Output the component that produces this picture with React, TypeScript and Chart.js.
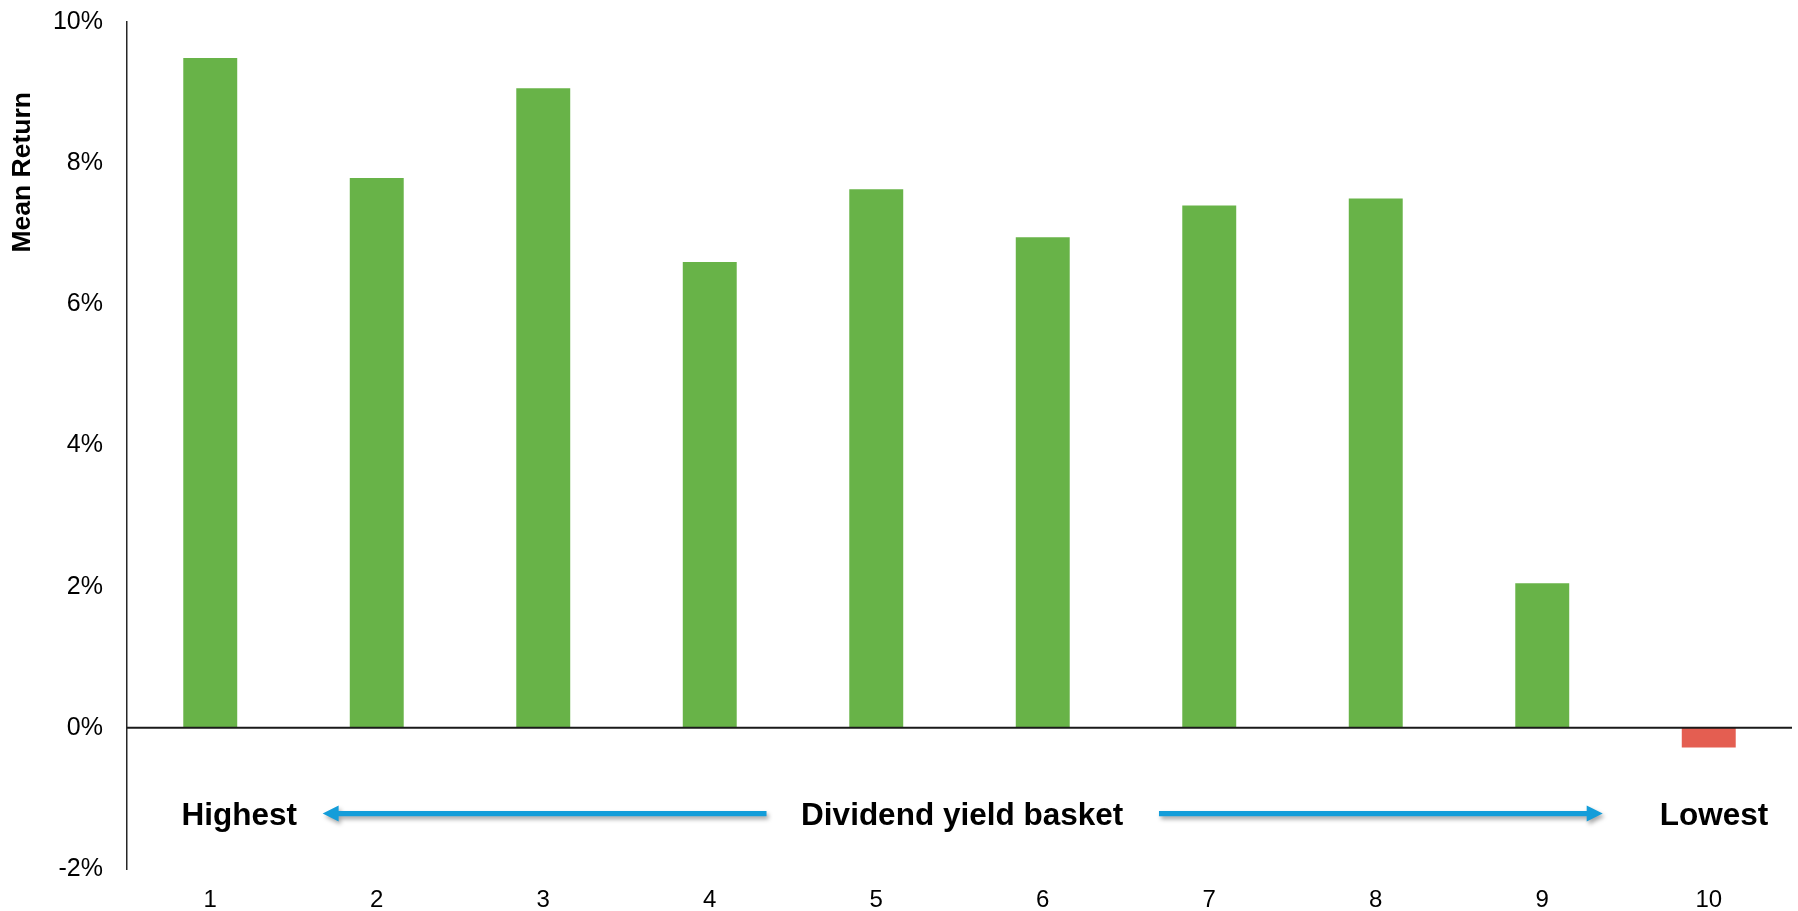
import React, { useEffect, useRef } from "react";
import { Chart, registerables } from "chart.js";

Chart.register(...registerables);

const categories = ["1", "2", "3", "4", "5", "6", "7", "8", "9", "10"];
const meanReturn = [9.49, 7.79, 9.06, 6.6, 7.63, 6.95, 7.4, 7.5, 2.05, -0.28];
const yTicks = [-2, 0, 2, 4, 6, 8, 10];
const yAxisTitle = "Mean Return";
const leftLabel = "Highest";
const centerLabel = "Dividend yield basket";
const rightLabel = "Lowest";

const GREEN = "#68b348";
const RED = "#e45e51";
const BLUE = "#149dd9";
const FONT = "'Liberation Sans', Arial, sans-serif";

const annotationPlugin = {
  id: "annotations",
  afterDatasetsDraw(chart: any) {
    const { ctx, chartArea, scales } = chart;
    const xs = scales.x;
    const ys = scales.y;
    // zero line
    const y0 = ys.getPixelForValue(0);
    ctx.save();
    ctx.strokeStyle = "#1a1a1a";
    ctx.lineWidth = 2;
    ctx.beginPath();
    ctx.moveTo(chartArea.left, y0);
    ctx.lineTo(chartArea.right, y0);
    ctx.stroke();
    ctx.restore();

    // y axis title
    ctx.save();
    ctx.font = `bold 26.5px ${FONT}`;
    ctx.fillStyle = "#000";
    ctx.textAlign = "center";
    ctx.textBaseline = "middle";
    ctx.translate(22.5, ys.getPixelForValue(7.87));
    ctx.rotate(-Math.PI / 2);
    ctx.fillText(yAxisTitle, 0, 0);
    ctx.restore();

    const arrowY = ys.getPixelForValue(-1.215);
    const textY = ys.getPixelForValue(-1.372);

    const drawArrow = (fromIdx: number, toIdx: number) => {
      const x1 = xs.getPixelForValue(fromIdx);
      const x2 = xs.getPixelForValue(toIdx);
      const dir = Math.sign(x2 - x1);
      const head = 16;
      ctx.save();
      ctx.shadowColor = "rgba(0,0,0,0.35)";
      ctx.shadowBlur = 4;
      ctx.shadowOffsetX = 2;
      ctx.shadowOffsetY = 3;
      ctx.fillStyle = BLUE;
      ctx.beginPath();
      ctx.moveTo(x1, arrowY - 2.6);
      ctx.lineTo(x2 - dir * head, arrowY - 2.6);
      ctx.lineTo(x2 - dir * head, arrowY - 8);
      ctx.lineTo(x2, arrowY);
      ctx.lineTo(x2 - dir * head, arrowY + 8);
      ctx.lineTo(x2 - dir * head, arrowY + 2.6);
      ctx.lineTo(x1, arrowY + 2.6);
      ctx.closePath();
      ctx.fill();
      ctx.restore();
    };
    drawArrow(3.341, 0.675);
    drawArrow(5.698, 8.363);

    ctx.save();
    ctx.font = `bold 31.5px ${FONT}`;
    ctx.fillStyle = "#000";
    ctx.textAlign = "center";
    ctx.textBaseline = "alphabetic";
    ctx.fillText(leftLabel, xs.getPixelForValue(0.174), textY);
    ctx.fillText(centerLabel, xs.getPixelForValue(4.516), textY);
    ctx.fillText(rightLabel, xs.getPixelForValue(9.032), textY);
    ctx.restore();
  },
};

export default function App() {
  const ref = useRef<HTMLCanvasElement>(null);
  useEffect(() => {
    if (!ref.current) return;
    const chart = new Chart(ref.current, {
      type: "bar",
      data: {
        labels: categories,
        datasets: [
          {
            data: meanReturn,
            backgroundColor: meanReturn.map((v) => (v < 0 ? RED : GREEN)),
            borderWidth: 0,
            categoryPercentage: 1,
            barPercentage: 0.324,
          },
        ],
      },
      options: {
        animation: false,
        responsive: false,
        maintainAspectRatio: false,
        layout: { autoPadding: false, padding: { left: 0, top: 22, right: 6, bottom: 0 } },
        plugins: { legend: { display: false }, tooltip: { enabled: false } },
        scales: {
          x: {
            grid: { display: false, drawTicks: false },
            border: { display: false },
            ticks: {
              color: "#000",
              font: { family: FONT, size: 24 },
              padding: 17,
              maxRotation: 0,
            },
            afterFit: (s: any) => {
              s.height = 42;
              s.paddingLeft = 0;
              s.paddingRight = 0;
            },
          },
          y: {
            min: -2,
            max: 10,
            afterBuildTicks: (s: any) => {
              s.ticks = yTicks.map((v) => ({ value: v }));
            },
            grid: { display: false, drawTicks: false },
            border: { display: true, color: "#262626", width: 1.5 },
            ticks: {
              color: "#000",
              font: { family: FONT, size: 25 },
              padding: 24,
              callback: (v: any) => `${v}%`,
            },
            afterFit: (s: any) => {
              s.width = 127;
              s.paddingTop = 0;
              s.paddingBottom = 0;
            },
          },
        },
      },
      plugins: [annotationPlugin],
    });
    return () => chart.destroy();
  }, []);
  return (
    <div style={{ position: "fixed", left: 0, top: 0, width: 1798, height: 911, background: "#fff" }}>
      <canvas ref={ref} width={1798} height={911} style={{ width: 1798, height: 911 }} />
    </div>
  );
}
